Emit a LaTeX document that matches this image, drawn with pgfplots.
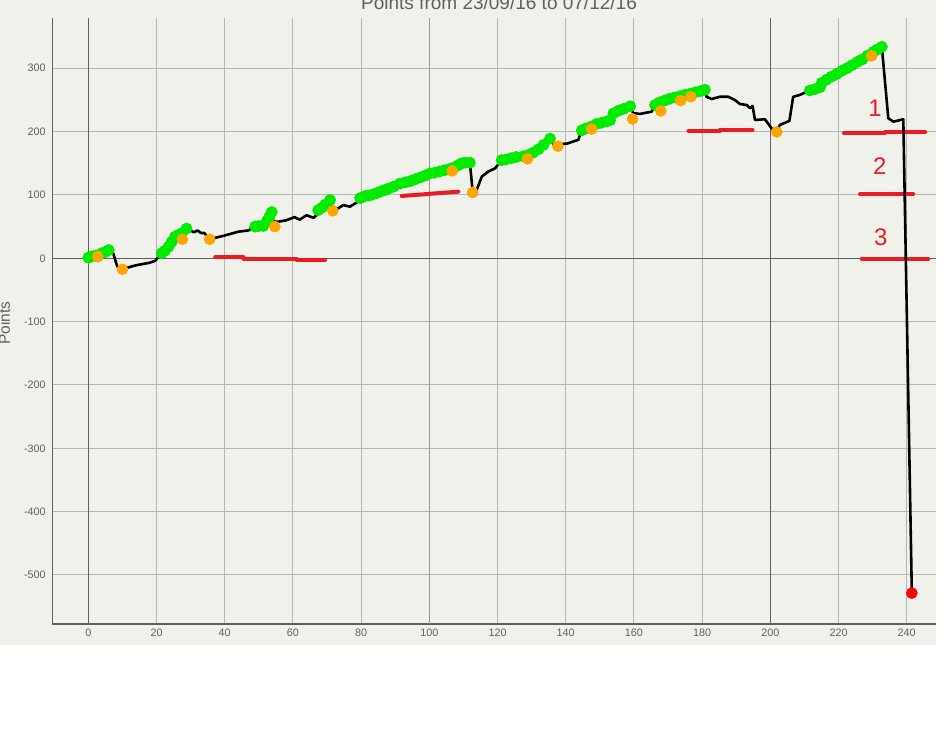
\documentclass[border=0pt]{standalone}
\usepackage{fontspec}
\setmainfont{Liberation Sans}
\usepackage{pgfplots}
\pgfplotsset{compat=1.18}
\definecolor{bg}{RGB}{241,241,236}
\definecolor{gridc}{RGB}{182,182,177}
\definecolor{midc}{RGB}{150,150,148}
\definecolor{darkc}{RGB}{95,95,95}
\definecolor{labc}{RGB}{95,95,95}
\definecolor{gr}{RGB}{0,235,0}
\definecolor{orc}{RGB}{255,165,0}
\definecolor{rd}{RGB}{237,28,36}
\begin{document}
\begin{tikzpicture}[x=0.5pt,y=0.5pt]
\path[use as bounding box] (0,0) rectangle (947,744);
\clip (0,0) rectangle (947,744);
\fill[bg] (0,99) rectangle (935.7,744);
\node[anchor=base, text=labc, font=\fontsize{9.5}{11}\selectfont] at (499,734) {Points from 23/09/16 to 07/12/16};
\node[anchor=base, rotate=90, text=labc, font=\fontsize{7.75}{9}\selectfont] at (10,421) {Points};
\begin{axis}[
  at={(26.15pt,60pt)}, anchor=south west,
  scale only axis, width=441.7pt, height=303pt,
  xmin=-10.56, xmax=248.5, ymin=-577.4, ymax=379.4,
  axis lines*=left,
  axis line style={darkc, line width=0.75pt},
  xtick={0,20,...,240}, ytick={-500,-400,...,300},
  major tick length=0pt,
  grid=major,
  major grid style={gridc, line width=0.5pt},
  /pgf/number format/assume math mode=true,
  tick label style={text=labc, font=\fontsize{5.4}{6}\selectfont, inner sep=0pt},
  xticklabel style={yshift=-2.1pt},
  yticklabel style={xshift=-3.1pt},
  clip=false,
]
\draw[midc, line width=0.5pt] (axis cs:100,-577.4) -- (axis cs:100,379.4);
\draw[darkc, line width=0.5pt] (axis cs:0,-577.4) -- (axis cs:0,379.4);
\draw[darkc, line width=0.5pt] (axis cs:200,-577.4) -- (axis cs:200,379.4);
\draw[darkc, line width=0.5pt] (axis cs:-10.56,0) -- (axis cs:248.5,0);

% red annotation strokes
\addplot[rd, line width=2pt, line cap=round] coordinates {(37.2,1.6) (45.5,1.6)};
\addplot[rd, line width=2pt, line cap=round] coordinates {(45.5,-0.6) (61.1,-0.6)};
\addplot[rd, line width=2pt, line cap=round] coordinates {(61.1,-2.7) (69.4,-2.7)};
\addplot[rd, line width=2pt, line cap=round] coordinates {(91.9,98.4) (108.5,105.2)};
\addplot[rd, line width=2pt, line cap=round] coordinates {(176,201) (185.2,201)};
\addplot[rd, line width=2pt, line cap=round] coordinates {(185.2,202.6) (194.8,202.6)};
\addplot[rd, line width=2pt, line cap=round] coordinates {(221.6,197.4) (233.6,197.4)};
\addplot[rd, line width=2pt, line cap=round] coordinates {(233.6,199) (245.4,199)};
\addplot[rd, line width=2pt, line cap=round] coordinates {(226.3,101.5) (241.9,101.5)};
\addplot[rd, line width=2pt, line cap=round] coordinates {(226.8,-1) (246.3,-1)};

% main line
\addplot[black, line width=1.3pt, line join=round, mark=none] coordinates {
(0,0) (1,3) (2,4) (3,5) (4,8) (5,10) (6,13) (7.3,8) (8.5,-13) (10,-17)
(12,-14) (14,-11) (16,-9) (18,-7) (19.6,-4) (21,5) (22.5,12) (24,22) (25.4,34) (27,38)
(28.8,47) (30,44) (31,41) (32,44) (33,40) (34,40) (35.6,30) (37,32) (40,36) (42,39)
(44,42) (47,44) (48.9,50) (51,52) (52.3,58) (53.8,73) (54.3,58) (56,58) (58,60) (60.5,65)
(62,61) (64,68) (66,64) (67,68) (67.4,76) (69,83) (70.9,92) (71.7,77) (73.3,79) (74.8,84)
(76.7,81.5) (78.7,88) (79.7,95) (84.6,103) (91.4,118) (100.2,134) (105.1,140.5) (109,150) (111.9,151)
(112.7,106) (113.9,108) (115.4,129) (117.3,137) (119.3,142) (121.2,155) (127.6,161) (131.5,170) (135.4,189)
(136.5,180) (140.3,181) (143.7,187) (144.7,202) (149.1,212) (153,218) (154,230) (158.9,240)
(159.8,229) (161.8,228) (165.2,231.5) (166.2,242) (170.5,252) (175,258) (180.8,266)
(181.3,255) (182.8,251.5) (185.2,255) (187.7,255) (189.6,250) (191.1,243.6) (193.1,242) (194,237) (194.8,240.5)
(195.5,218.4) (198.4,219.5) (200.4,205) (201.9,200) (202.8,210.5) (205.6,217) (206.7,255) (208.7,258) (210.7,263)
(211.6,265) (214.6,270) (215.1,279) (220.5,295) (226.3,313) (230.2,326) (232.7,334)
(234.6,221) (236.1,215.7) (239,219.5) (241.5,-528.6)
};

% green points
\addplot[only marks, mark=*, mark size=2.75pt, mark options={draw=gr, fill=gr}] coordinates {
(0,1) (1,3) (2,4) (3,5) (4,8) (5,10) (6,13)
(21.5,8) (22.5,12) (23.5,18) (24.5,26) (25.4,34) (26.5,37) (27.5,40) (28.8,47)
(48.9,50) (50,51) (51.3,51) (52.3,58) (53,65) (53.8,73)
(67.4,76) (68.5,80) (69.5,85) (70.9,92)
(79.7,95) (81,98) (82,99) (83,100) (84.6,103) (86,106) (87,108) (88,110) (89.5,113) (91.4,118)
(93,120) (94.5,122) (96,125) (97.5,128) (99,131) (100.2,134) (101.5,135) (103,137) (104.5,139) (106,141)
(107.5,144) (108.5,147) (109.5,150) (110.5,151) (111.9,151)
(121.2,155) (122.5,156) (124,158) (125.5,160) (127.6,161) (129,163) (130.5,167) (132,172) (133.5,179) (135.4,189)
(144.7,202) (146,205) (147.5,208) (149,212) (150.5,214) (152,216) (153,218) (154,229) (155.5,233) (157,236) (158.9,240)
(166.2,242) (167.5,246) (169,249) (170.5,252) (172,254) (173.5,256) (175,258) (176.5,260) (178,262) (179.5,264) (180.8,266)
(211.6,265) (213,267) (214.6,270) (215.1,277) (216.5,282) (218,287) (219.5,291) (221,296) (222.5,300) (224,305)
(225.5,310) (227,314) (228.5,320) (230.2,326) (231.5,330) (232.7,334)
};

% orange points
\addplot[only marks, mark=*, mark size=2.7pt, mark options={draw=orc, fill=orc}] coordinates {
(2.75,2.5) (10,-17.4) (27.6,30) (35.6,30) (54.7,50) (71.7,75) (106.7,138) (112.7,104)
(128.8,157) (137.7,177) (147.6,204) (159.6,220) (167.9,232.6) (173.7,249) (176.7,255)
(201.9,199.5) (229.7,319.5)
};

% final red point
\addplot[only marks, mark=*, mark size=2.7pt, mark options={draw=red, fill=red}] coordinates {(241.5,-528.6)};

\node[text=rd, font=\fontsize{12}{14}\selectfont] at (axis cs:230.7,237) {1};
\node[text=rd, font=\fontsize{12}{14}\selectfont] at (axis cs:232.1,146) {2};
\node[text=rd, font=\fontsize{12}{14}\selectfont] at (axis cs:232.4,33) {3};
\end{axis}
\end{tikzpicture}
\end{document}
